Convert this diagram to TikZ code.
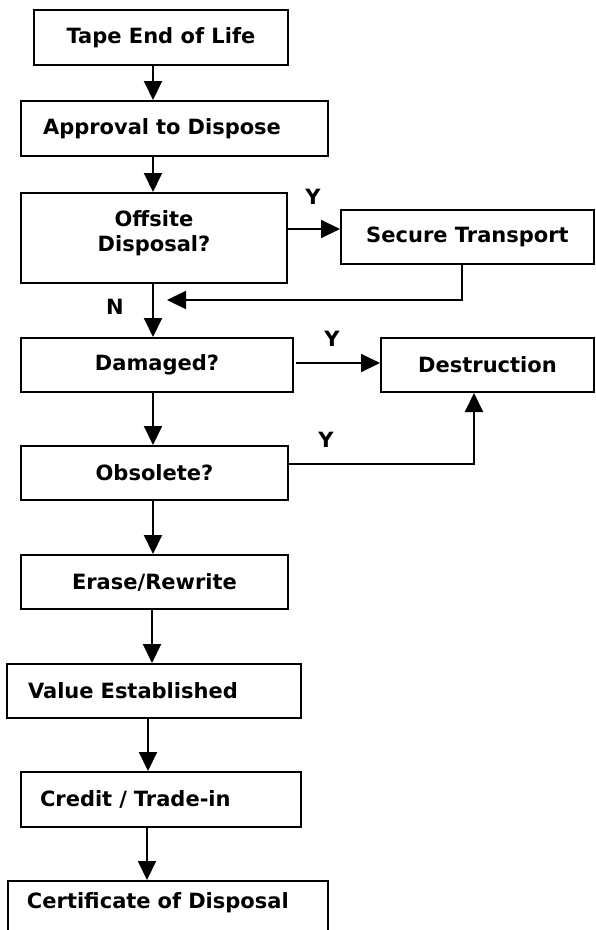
\documentclass[tikz,border=0pt]{standalone}
\usepackage{fontspec}
\setmainfont{DejaVu Sans}
\usetikzlibrary{arrows.meta}

\tikzset{
  box/.style={draw, line width=2pt, rectangle, inner sep=0pt, anchor=north west,
    font=\fontsize{21}{25}\selectfont\bfseries, align=center},
  lbox/.style={box, align=left},
  lab/.style={font=\fontsize{21}{25}\selectfont\bfseries},
  arr/.style={line width=2pt, -{Triangle[length=19pt,width=18pt]}},
}

\begin{document}
\begin{tikzpicture}[x=1pt,y=-1pt]
  \useasboundingbox (0,0) rectangle (595,930);

  %main column
  \node[box, minimum width=254, minimum height=55] (tape) at (33,9) {Tape End of Life};
  \node[lbox, minimum width=307, minimum height=55, text width=263, inner xsep=22] (appr) at (20,100) {Approval to Dispose};
  \node[box, minimum width=266, minimum height=90] (offs) at (20,192) {Offsite\\Disposal?\rule[-13pt]{0pt}{0pt}};
  \node[box, minimum width=272, minimum height=54] (dam) at (20,337) {Damaged?};
  \node[box, minimum width=267, minimum height=54] (obs) at (20,445) {Obsolete?};
  \node[box, minimum width=267, minimum height=54] (erase) at (20,554) {Erase/Rewrite};
  \node[lbox, minimum width=294, minimum height=54, text width=252, inner xsep=21] (value) at (6,663) {Value Established};
  \node[lbox, minimum width=280, minimum height=55, text width=242, inner xsep=19] (credit) at (20,771) {Credit / Trade-in};
  \node[lbox, minimum width=320, minimum height=55, text width=282, inner xsep=19] (cert) at (7,880) {Certificate of Disposal\rule[-15pt]{0pt}{0pt}};

  %side boxes
  \node[box, minimum width=253, minimum height=54] (sec) at (340,209) {Secure Transport};
  \node[box, minimum width=213, minimum height=54] (destr) at (380,337) {Destruction};

  %spines of the vertical arrows
  \coordinate (spine) at (153,0);
  \coordinate (lspine) at (148,0);
  \coordinate (ret) at (167,300);

  %down the column
  \draw[arr] (tape.south -| spine) -- (appr.north -| spine);
  \draw[arr] (appr.south -| spine) -- (offs.north -| spine);
  \draw[arr] (offs.south -| spine) -- (dam.north -| spine);
  \draw[arr] (dam.south -| spine) -- (obs.north -| spine);
  \draw[arr] (obs.south -| spine) -- (erase.north -| spine);
  \draw[arr] ([xshift=-1pt]erase.south -| spine) -- ([xshift=-1pt]value.north -| spine);
  \draw[arr] (value.south -| lspine) -- (credit.north -| lspine);
  \draw[arr] ([xshift=-1pt]credit.south -| lspine) -- ([xshift=-1pt]cert.north -| lspine);

  %branches
  \draw[arr] ([yshift=9pt]offs.east) -- ([yshift=9pt]offs.east -| sec.west);
  \draw[arr] ([xshift=-6pt]sec.south) |- (ret);
  \draw[arr] ([shift={(2pt,2pt)}]dam.east) -- ([yshift=2pt]destr.west);
  \draw[arr] ([yshift=9pt]obs.east) -| ([xshift=-13.5pt]destr.south);

  %Y and N
  \node[lab] (y1) at (313,197) {Y};
  \node[lab] (y2) at (332,339) {Y};
  \node[lab] (y3) at (326,440) {Y};
  \node[lab] (n1) at (115,307) {N};
\end{tikzpicture}
\end{document}
